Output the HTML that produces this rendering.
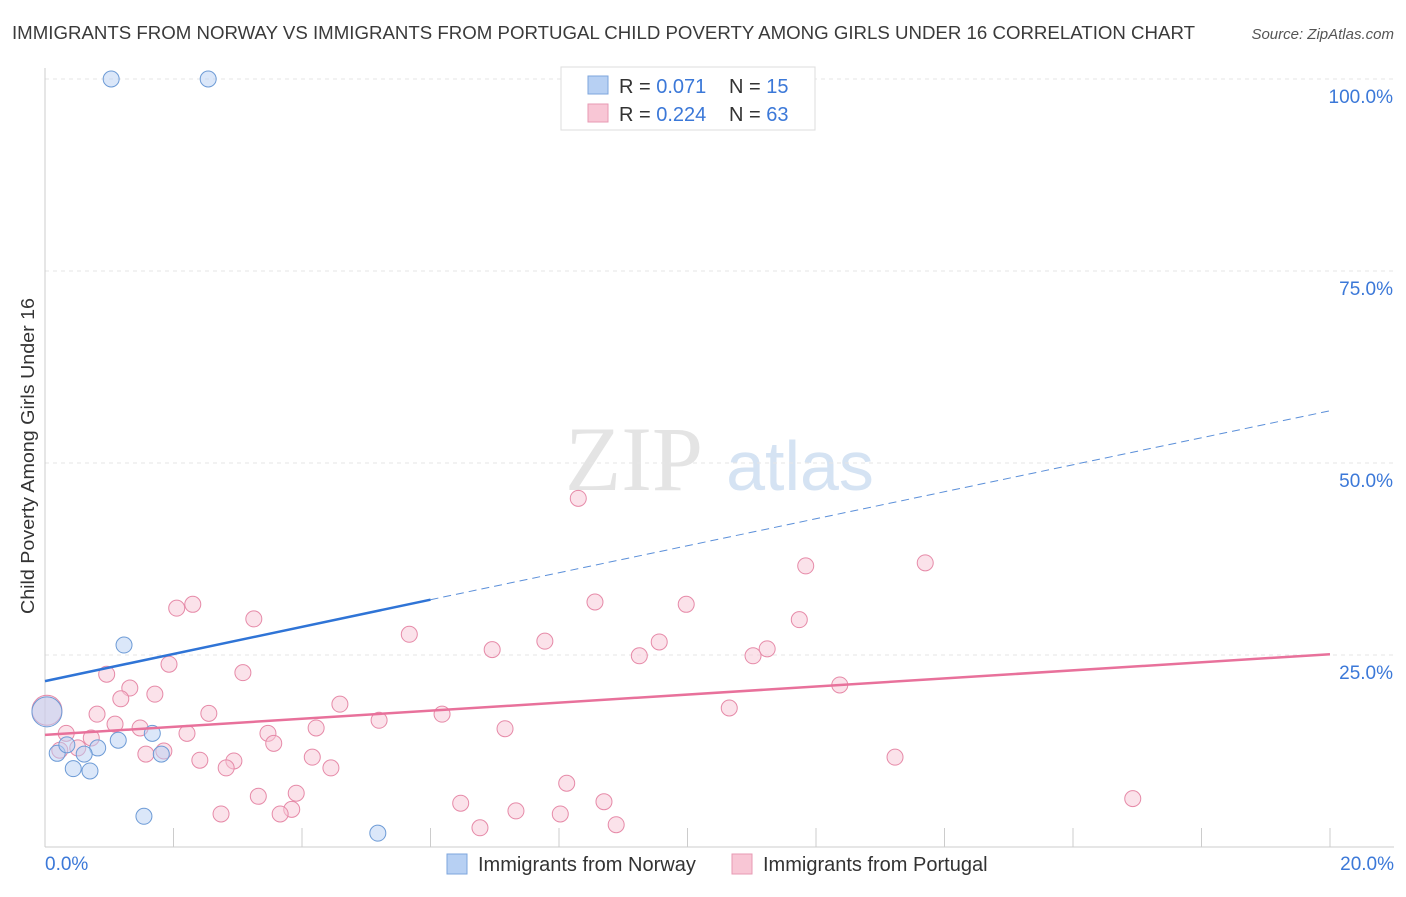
<!DOCTYPE html>
<html><head><meta charset="utf-8"><style>
body{margin:0;background:#fff;font-family:"Liberation Sans",sans-serif;}
#c{position:absolute;left:0;top:0;width:1406px;height:892px;}
</style></head><body>
<div id="c">
<svg id="svg" width="1406" height="892" xmlns="http://www.w3.org/2000/svg">
<text x="12" y="39" font-size="18" fill="#3a3a3a" textLength="1183" lengthAdjust="spacingAndGlyphs">IMMIGRANTS FROM NORWAY VS IMMIGRANTS FROM PORTUGAL CHILD POVERTY AMONG GIRLS UNDER 16 CORRELATION CHART</text>
<text x="1394" y="39" font-size="15" fill="#555" font-style="italic" text-anchor="end">Source: ZipAtlas.com</text>
<text x="634" y="490" font-size="92" fill="#e4e4e4" font-family="Liberation Serif,serif" text-anchor="middle">ZIP</text>
<text x="800" y="490" font-size="70" fill="#d5e3f3" text-anchor="middle">atlas</text>
<text transform="translate(34,614) rotate(-90)" font-size="18" fill="#333" textLength="316" lengthAdjust="spacingAndGlyphs">Child Poverty Among Girls Under 16</text>
<g id="grid"></g><g id="marks"></g>
<g>
<rect x="561" y="67" width="254" height="63" fill="#fff" stroke="#ddd"/>
<rect x="588" y="76" width="20" height="18" fill="#b7d0f3" stroke="#7ea6dc"/>
<text x="619" y="93" font-size="20" fill="#333">R = <tspan fill="#3b78d8">0.071</tspan><tspan x="729">N = </tspan><tspan fill="#3b78d8">15</tspan></text>
<rect x="588" y="104" width="20" height="18" fill="#f8c6d5" stroke="#e79ab3"/>
<text x="619" y="121" font-size="20" fill="#333">R = <tspan fill="#3b78d8">0.224</tspan><tspan x="729">N = </tspan><tspan fill="#3b78d8">63</tspan></text>
</g>
<g>
<rect x="447" y="854" width="20" height="20" fill="#b7d0f3" stroke="#7ea6dc"/>
<text x="478" y="871" font-size="20" fill="#333">Immigrants from Norway</text>
<rect x="732" y="854" width="20" height="20" fill="#f8c6d5" stroke="#e79ab3"/>
<text x="763" y="871" font-size="20" fill="#333">Immigrants from Portugal</text>
</g>
</svg></div>
<script>
const norwayX=[1.03,2.54,1.23,0.19,0.34,0.82,0.61,1.14,1.67,1.81,0.44,0.70,1.54,5.18,0.03];
const norwayY=[100,100,26.3,12.2,13.3,12.9,12.1,13.9,14.8,12.1,10.2,9.9,4.0,1.8,17.6];
const portugalX=[0.03,8.30,13.70,11.84,8.56,9.98,2.05,2.30,3.25,11.74,5.67,7.78,9.56,6.96,11.24,9.25,11.02,1.93,3.08,0.96,12.37,1.32,1.18,1.71,4.59,10.65,0.81,2.55,6.18,1.09,5.20,4.22,7.16,1.48,3.47,2.21,0.33,0.72,3.56,0.23,0.51,1.85,1.57,4.16,2.41,2.94,2.82,4.45,13.23,8.12,3.91,3.32,6.47,8.70,16.93,3.84,7.33,2.74,3.66,8.02,8.89,6.77];
const portugalY=[17.8,45.4,37.0,36.6,31.9,31.6,31.1,31.6,29.7,29.6,27.7,26.8,26.7,25.7,25.8,24.9,24.9,23.8,22.7,22.5,21.1,20.7,19.3,19.9,18.6,18.1,17.3,17.4,17.3,16.0,16.5,15.5,15.4,15.5,14.8,14.8,14.8,14.2,13.5,12.6,12.9,12.5,12.1,11.7,11.3,11.2,10.3,10.3,11.7,8.3,7.0,6.6,5.7,5.9,6.3,4.9,4.7,4.3,4.3,4.3,2.9,2.5];
const yTicks=[25,50,75,100];
const yTickLabels=["25.0%","50.0%","75.0%","100.0%"];
const xTicks=[0,2,4,6,8,10,12,14,16,18,20];
const norwayTrend=[[0,21.6],[6.0,32.2],[20,56.8]];
const portugalTrend=[[0,14.6],[20,25.1]];
const NS="http://www.w3.org/2000/svg";
const sx=v=>45+v*64.25, sy=v=>847-v*7.68;
function mk(tag,attrs,parent){const e=document.createElementNS(NS,tag);for(const k in attrs)e.setAttribute(k,attrs[k]);parent.appendChild(e);return e;}
const grid=document.getElementById('grid'),marks=document.getElementById('marks');
yTicks.forEach((t,i)=>{
 const l=mk('line',{x1:45,x2:1394,y1:sy(t),y2:sy(t),stroke:'#e6e6e6','stroke-dasharray':'4,4'},grid);
 
 
 const tx=mk('text',{x:1393,y:sy(t)+24,'font-size':19,fill:'#3b78d8','text-anchor':'end'},grid);
 tx.textContent=yTickLabels[i];
 
 
});
const ax=mk('line',{x1:45,x2:45,y1:68,y2:847,stroke:'#ccc'},grid);


const bx=mk('line',{x1:45,x2:1394,y1:847,y2:847,stroke:'#ccc'},grid);


xTicks.forEach(t=>{
 const l=mk('line',{x1:sx(t),x2:sx(t),y1:828,y2:847,stroke:'#ccc'},grid);
 
 
});
const xl0=mk('text',{x:45,y:870,'font-size':19,fill:'#3b78d8'},grid);xl0.textContent=xTicks[0].toFixed(1)+'%';


const xl1=mk('text',{x:1394,y:870,'font-size':19,fill:'#3b78d8','text-anchor':'end'},grid);xl1.textContent=xTicks[xTicks.length-1].toFixed(1)+'%';


function pts(X,Y,fill,stroke,name,bigIdx){
 X.forEach((x,i)=>{
  const c=mk('circle',{cx:sx(x),cy:sy(Y[i]),r:i===bigIdx?15:8,fill:fill,'fill-opacity':0.5,stroke:stroke,'stroke-width':1},marks);
  
  
 });
}
pts(portugalX,portugalY,'#f8c6d5','#e68aa8','portugal-point',0);
pts(norwayX,norwayY,'#b7d0f3','#6d9bd6','norway-point',14);
const pt=mk('line',{x1:sx(portugalTrend[0][0]),y1:sy(portugalTrend[0][1]),x2:sx(portugalTrend[1][0]),y2:sy(portugalTrend[1][1]),stroke:'#e8719b','stroke-width':2.5},marks);


const nt=mk('line',{x1:sx(norwayTrend[0][0]),y1:sy(norwayTrend[0][1]),x2:sx(norwayTrend[1][0]),y2:sy(norwayTrend[1][1]),stroke:'#2f74d6','stroke-width':2.5},marks);


const nd=mk('line',{x1:sx(norwayTrend[1][0]),y1:sy(norwayTrend[1][1]),x2:sx(norwayTrend[2][0]),y2:sy(norwayTrend[2][1]),stroke:'#5b8fd9','stroke-width':1,'stroke-dasharray':'8,5'},marks);


</script>
</body></html>
